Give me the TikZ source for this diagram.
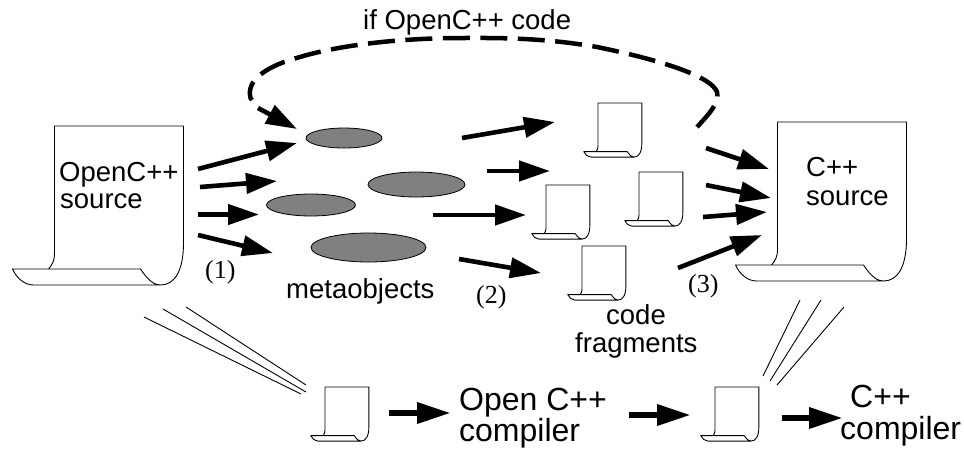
\documentclass[tikz,border=0pt]{standalone}
\usepackage{fontspec}
\setmainfont{Liberation Sans}
\newfontfamily\numfont{Liberation Serif}
\usetikzlibrary{arrows.meta,shapes.geometric}
\tikzset{
  flow/.style={line width=4.6pt,-{Triangle[length=31pt,width=20pt]}},
  flowheavy/.style={line width=6.5pt,-{Triangle[length=34pt,width=20pt]}},
  loopline/.style={line width=4.5pt,dash pattern=on 27pt off 10.5pt},
  thinray/.style={line width=0.9pt},
  metaobj/.style={ellipse,draw=black,line width=0.8pt,fill=black!50,inner sep=0pt},
  lbl/.style={anchor=base west,inner sep=0pt,font=\fontsize{27.5}{30}\selectfont},
  biglbl/.style={anchor=base west,inner sep=0pt,font=\fontsize{32}{34}\selectfont},
  numlbl/.style={anchor=base west,inner sep=0pt,font=\numfont\fontsize{26}{28}\selectfont},
  sheet/.style={line width=0.9pt,line join=round}
}
% #1 name, #2 top-left corner, #3 scale
\newcommand{\sheetdoc}[3]{%
  \coordinate (#1) at (#2);
  \begin{scope}[shift={(#1)},scale=#3]
    \draw[sheet] (-6,143) .. controls (-2,138) and (0,135) .. (0,127) -- (0,0) -- (129,0) -- (129,117)
      .. controls (129,145) and (120,159) .. (106,159)
      .. controls (100,159) and (94,155) .. (86,143) -- (-42,143)
      .. controls (-38,152) and (-30,159) .. (-21,159) -- (106,159);
  \end{scope}}
\newcommand{\flowarrow}[4][flow]{%
  \coordinate (#2a) at (#3); \coordinate (#2b) at (#4);
  \draw[#1] (#2a) -- (#2b);}
\newcommand{\ray}[3]{%
  \coordinate (#1a) at (#2); \coordinate (#1b) at (#3);
  \draw[thinray] (#1a) -- (#1b);}
\begin{document}
\begin{tikzpicture}[x=1pt,y=-1pt]
\useasboundingbox (0,0) rectangle (964,448);
% documents
\sheetdoc{srcdoc}{54.5,126}{1}
\sheetdoc{cppdoc}{777.5,122}{1}
\sheetdoc{fragA}{598,103}{0.34}
\sheetdoc{fragB}{546,185}{0.34}
\sheetdoc{fragC}{639,172}{0.34}
\sheetdoc{fragD}{582,246}{0.34}
\sheetdoc{botA}{325,387}{0.34}
\sheetdoc{botB}{715,387}{0.34}
% metaobjects
\node[metaobj,minimum width=76pt,minimum height=20pt] (mA) at (344,138) {};
\node[metaobj,minimum width=97pt,minimum height=25pt] (mB) at (416.5,184.5) {};
\node[metaobj,minimum width=89pt,minimum height=22pt] (mC) at (311,205) {};
\node[metaobj,minimum width=115pt,minimum height=29pt] (mD) at (368.5,247.5) {};
% arrows: source to metaobjects
\flowarrow{a}{198,169}{297,143}
\flowarrow{b}{200,187}{277,181}
\flowarrow{c}{198,214.5}{259,214.5}
\flowarrow{d}{198,235}{273,253}
% arrows: metaobjects to fragments
\flowarrow{e}{462,138}{555,122}
\flowarrow{f}{487,171}{550,171}
\flowarrow{g}{433,215}{526,215}
\flowarrow{h}{459,259}{541,273}
% arrows: fragments to C++ source
\flowarrow{i}{706,148}{769,169}
\flowarrow{j}{706,185}{771,198}
\flowarrow{k}{703,217}{767,212}
\flowarrow{l}{678,268}{762,235}
% bottom arrows
\flowarrow[flowheavy]{m}{389,413}{451,413}
\flowarrow[flowheavy]{n}{629,415}{691,415}
\flowarrow[flowheavy]{o}{782,418}{843,418}
% feedback
\coordinate (loopstart) at (697,127);
\coordinate (loopend) at (252,100);
\draw[loopline] (loopstart) .. controls (708,115) and (720,103) .. (717,92)
  .. controls (712,78) and (670,62) .. (597,47)
  .. controls (540,37) and (490,38) .. (463,38)
  .. controls (400,38) and (340,45) .. (300,57)
  .. controls (270,65) and (248,78) .. (250,95)
  .. controls (250,98) and (251,99) .. (loopend);
\flowarrow{p}{258,108}{297,129}
% rays
\ray{r}{144,317}{301,394}
\ray{s}{163,309}{306,392}
\ray{t}{186,307}{306,385}
\ray{u}{800,300}{763,376}
\ray{v}{821,300}{770,381}
\ray{w}{844,307}{777,385}
% labels
\node[lbl] (tIf) at (363,29) {if OpenC++ code};
\node[lbl] (tOc) at (59,181) {OpenC++};
\node[lbl] (tOs) at (60,208) {source};
\node[lbl] (tCc) at (806,176) {C++};
\node[lbl] (tCs) at (806,205) {source};
\node[lbl] (tMeta) at (286,298) {metaobjects};
\node[lbl] (tCode) at (606,324) {code};
\node[lbl] (tFrag) at (575,352) {fragments};
\node[biglbl] (tOpen) at (459,410) {Open C++};
\node[biglbl] (tComp) at (459,441) {compiler};
\node[biglbl] (tCpp) at (850,407) {C++};
\node[biglbl] (tComp2) at (840,439) {compiler};
\node[numlbl] (t1) at (205,278) {(1)};
\node[numlbl] (t2) at (476,303) {(2)};
\node[numlbl] (t3) at (688,292) {(3)};
\end{tikzpicture}
\end{document}
